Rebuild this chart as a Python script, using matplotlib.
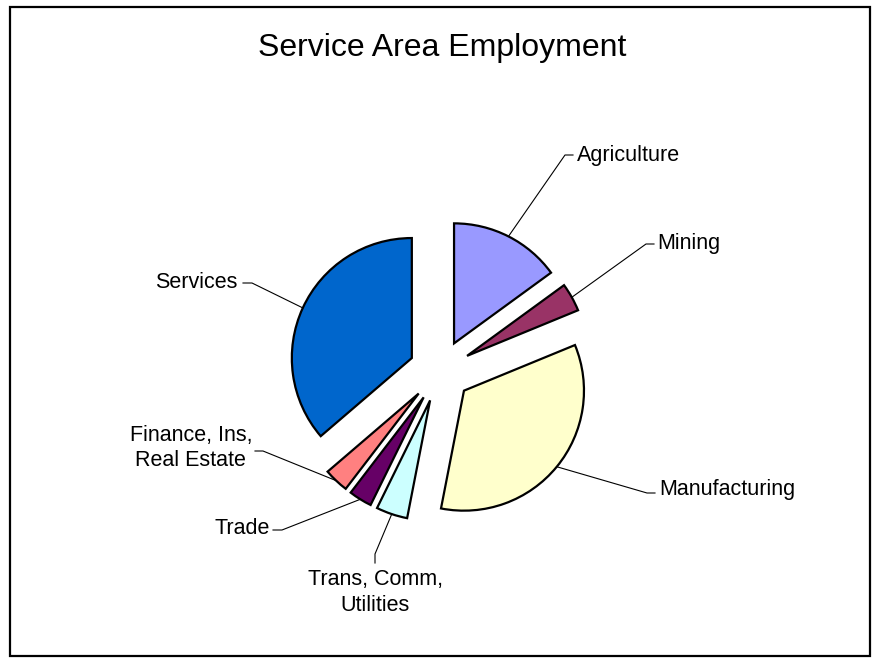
import numpy as np
import matplotlib
matplotlib.use('Agg')
import matplotlib.pyplot as plt
from matplotlib.patches import Rectangle

plt.rcParams['font.family'] = ['Liberation Sans', 'DejaVu Sans']

# shares of employment (%)
categories = ["Agriculture", "Mining", "Manufacturing", "Trans, Comm,\nUtilities",
              "Trade", "Finance, Ins,\nReal Estate", "Services"]
shares = [14.9, 3.8, 34.1, 4.2, 3.1, 3.3, 36.1]
colors = ["#9999FF", "#993366", "#FFFFCC", "#CCFFFF", "#660066", "#FF8080", "#0066CC"]

W, H = 875, 664


def flip(y):
    # pixel rows (from top) -> data y (from bottom)
    return H - y


# label layout: text position, alignment, elbow of leader line, end of leader line
label_layout = [
    dict(text=(577, 155), ha='left', va='center', elbow=(565, 155), end=(573, 155)),
    dict(text=(657, 243), ha='left', va='center', elbow=(646, 244), end=(654, 244)),
    dict(text=(659, 490), ha='left', va='center', elbow=(647, 493), end=(655, 493)),
    dict(text=(375, 569), ha='center', va='top', elbow=(375, 554), end=(375, 563)),
    dict(text=(270, 528), ha='right', va='center', elbow=(282, 530), end=(273, 530)),
    dict(text=(252, 448), ha='right', va='center', elbow=(263, 451), end=(255, 451)),
    dict(text=(237, 283), ha='right', va='center', elbow=(252, 283), end=(243, 283)),
]

fig = plt.figure(figsize=(W / 100, H / 100), dpi=100)
ax = fig.add_axes([0, 0, 1, 1])

radius = 120
# explode is in data units here (pixels), about a quarter of the radius
wedges, _ = ax.pie(shares, colors=colors, startangle=90, counterclock=False,
                   explode=[31] * len(shares), radius=radius,
                   center=(440, flip(371)), normalize=True,
                   wedgeprops=dict(edgecolor='black', linewidth=1.6))
ax.set_xlim(0, W)
ax.set_ylim(0, H)
ax.set_aspect('auto')
ax.axis('off')

for w, name, lay in zip(wedges, categories, label_layout):
    mid = np.deg2rad((w.theta1 + w.theta2) / 2)
    cx, cy = w.center
    px, py = cx + w.r * np.cos(mid), cy + w.r * np.sin(mid)
    ex, ey = lay['elbow']
    fx, fy = lay['end']
    ax.plot([px, ex, fx], [py, flip(ey), flip(fy)], color='black', lw=0.8,
            zorder=1)
    tx, ty = lay['text']
    ax.text(tx, flip(ty), name, ha=lay['ha'], va=lay['va'], fontsize=15.5,
            multialignment='center', linespacing=1.3)

ax.text(442, flip(48), "Service Area Employment", ha='center', va='center',
        fontsize=23)

# chart frame
ax.add_patch(Rectangle((9.5, flip(655.5)), 860.5, 648.5, fill=False,
                       edgecolor='black', lw=1.6, zorder=5))

fig.savefig('out.png', dpi=100)
